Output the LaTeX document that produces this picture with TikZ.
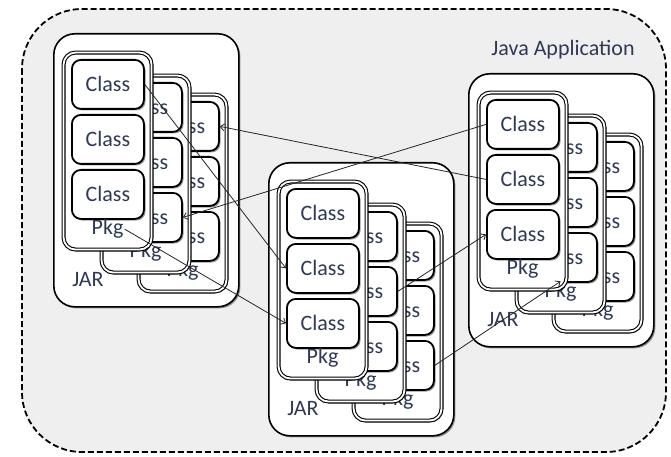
\documentclass[tikz,border=0pt]{standalone}
\usepackage{fontspec}
\setmainfont{Carlito}
\usetikzlibrary{arrows.meta,shadows}

\definecolor{appfill}{HTML}{EFEFEF}
\definecolor{txt}{HTML}{2E3A55}

\tikzset{
  soft/.style={drop shadow={shadow xshift=1.6pt,shadow yshift=-1.6pt,opacity=.4,fill=black}},
  jarbox/.style={draw, line width=1.6pt, fill=white, rounded corners=21pt,
    minimum width=185pt, minimum height=273pt, anchor=north west, inner sep=0pt, soft},
  pkgbox/.style={draw, double=white, double distance=1.8pt, line width=1.1pt, fill=white,
    rounded corners=12pt, minimum width=88pt, minimum height=197pt,
    anchor=north west, inner sep=0pt, soft},
  classbox/.style={draw, line width=1.8pt, fill=white, rounded corners=9pt,
    minimum width=72pt, minimum height=49pt, anchor=north west, inner sep=0pt,
    text=txt, font=\fontsize{22}{26}\selectfont, soft},
  lbl/.style={text=txt, font=\fontsize{22}{26}\selectfont, inner sep=1pt},
  dep/.style={draw=black!85, line width=0.8pt, -{Straight Barb[length=4pt,width=7pt]}},
  appframe/.style={draw, fill=appfill, line width=1.8pt, dash pattern=on 6pt off 3pt,
    rounded corners=60pt}
}

% One JAR: three stacked packages, each holding three classes
\newcommand\drawjar[3]{%
  \node[jarbox] (#1) at (#2,#3) {};
  \foreach \q/\dx/\dy in {3/75/42, 2/38/23, 1/0/0} {
    \node[pkgbox] (#1-p\q) at (#2+10+\dx, #3+19+\dy) {};
    \foreach \k in {1,2,3} {
      \node[classbox] (#1-p\q-c\k) at (#2+18+\dx, #3+26+\dy+55*\k-55) {Class};
    }
    \node[lbl] (#1-p\q-l) at ([yshift=21pt]#1-p\q.south) {Pkg};
  }
  \node[lbl] (#1-l) at ([xshift=35pt,yshift=28pt]#1.south west) {JAR};
}

\begin{document}
\begin{tikzpicture}[x=1pt,y=-1pt]
  \useasboundingbox (0,0) rectangle (671,457);

  % application boundary
  \path[appframe] (22,9) rectangle (666,452);
  \node[lbl] (app) at (563,50) {Java Application};

  \drawjar{L}{53}{33}
  \drawjar{M}{268}{162}
  \drawjar{R}{468}{73}

  % class dependencies
  \draw[dep] (L-p1-c1.east) -- (M-p1-c2.west);
  \draw[dep] (L-p1-l.east) -- (M-p1-c3.west);
  \draw[dep] (R-p1-c1.west) -- (L-p2-c3.east);
  \draw[dep] (R-p1-c2.west) -- (L-p3-c1.east);
  \draw[dep] (M-p2-c2.east) -- (R-p1-c3.west);
  \draw[dep] (M-p3-c3.east) -- (R-p2-l.north);
\end{tikzpicture}
\end{document}
